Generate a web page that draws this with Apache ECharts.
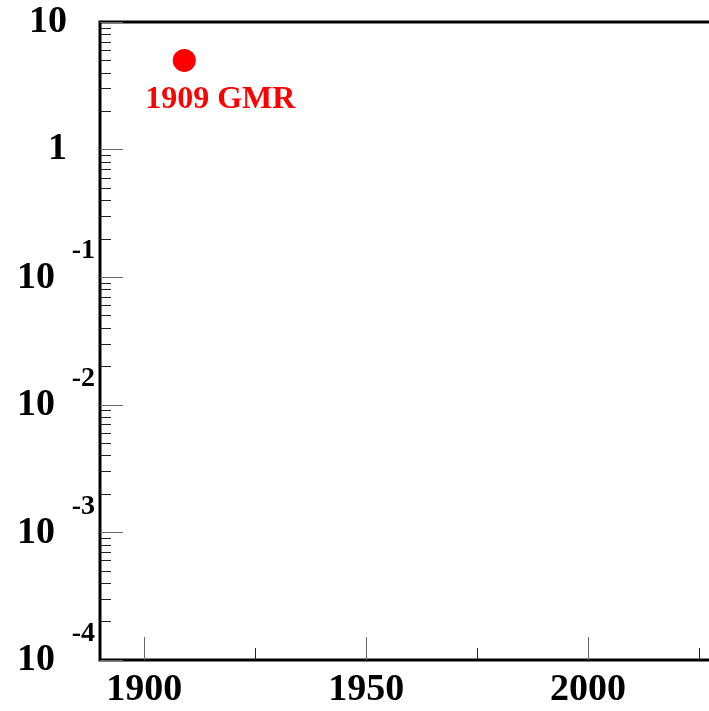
<!DOCTYPE html>
<html>
<head>
<meta charset="utf-8">
<script src="https://cdn.jsdelivr.net/npm/echarts@6/dist/echarts.min.js"></script>
<style>
html,body{margin:0;padding:0;background:#fff;}
#main{width:709px;height:711px;}
</style>
</head>
<body>
<div id="main"></div>
<script>
// Data
const years = [1909];
const values = [5];
const pointLabels = ['1909 GMR'];
const xMajorTicks = [1900, 1950, 2000];
const xMinorTicks = [1925, 1975, 2025];
const yDecades = [1e-4, 1e-3, 1e-2, 1e-1, 1, 10];
const yMinorFactors = [2, 3, 4, 5, 6, 7, 8, 9];

const FONT = 'Liberation Serif';
const yMinorTicks = [];
yDecades.slice(0, -1).forEach(d => yMinorFactors.forEach(f => yMinorTicks.push(d * f)));

const chart = echarts.init(document.getElementById('main'), null, {renderer: 'canvas'});
const option = {
  backgroundColor: '#fff',
  animation: false,
  grid: {left: 100, top: 22, right: -12, bottom: 51, outerBoundsMode: 'none', containLabel: false,
         show: true, borderColor: '#000', borderWidth: 3, backgroundColor: 'transparent'},
  xAxis: [{
    type: 'value', min: 1890, max: 2030, position: 'bottom',
    axisLine: {show: true, onZero: false, lineStyle: {color: '#000', width: 2}},
    axisTick: {show: true, inside: true, length: 23, customValues: xMajorTicks, lineStyle: {color: '#666', width: 1}},
    axisLabel: {show: true, customValues: xMajorTicks, margin: 11, formatter: v => String(v),
                fontFamily: FONT, fontWeight: 'bold', fontSize: 38, color: '#000'},
    splitLine: {show: false}
  }, {
    type: 'value', min: 1890, max: 2030, position: 'bottom',
    axisLine: {show: false, onZero: false},
    axisTick: {show: true, inside: true, length: 12, customValues: xMinorTicks, lineStyle: {color: '#222', width: 1}},
    axisLabel: {show: false},
    splitLine: {show: false}
  }],
  yAxis: [{
    type: 'log', logBase: 10, min: 1e-4, max: 10, position: 'left',
    axisLine: {show: true, onZero: false, lineStyle: {color: '#000', width: 2}},
    axisTick: {show: true, inside: true, length: 23, customValues: yDecades, lineStyle: {color: '#666', width: 1}},
    axisLabel: {
      show: true, customValues: yDecades, margin: 5, align: 'right',
      formatter: function (v) {
        const p = Math.round(Math.log10(v));
        if (p === 1) return '{t|10}';
        if (p === 0) return '{t|1}';
        return '{e|' + p + '}\n{b|10}';
      },
      rich: {
        t: {fontFamily: FONT, fontWeight: 'bold', fontSize: 38, color: '#000', padding: [0, 28, 0, 0]},
        b: {fontFamily: FONT, fontWeight: 'bold', fontSize: 38, color: '#000', lineHeight: 52, padding: [0, 40, 0, 0]},
        e: {fontFamily: FONT, fontWeight: 'bold', fontSize: 28, color: '#000', lineHeight: 1}
      }
    },
    splitLine: {show: false},
    minorTick: {show: false}
  }, {
    type: 'log', logBase: 10, min: 1e-4, max: 10, position: 'left',
    axisLine: {show: false, onZero: false},
    axisTick: {show: true, inside: true, length: 11, customValues: yMinorTicks, lineStyle: {color: '#222', width: 1}},
    axisLabel: {show: false},
    splitLine: {show: false}
  }],
  series: [{
    type: 'scatter', xAxisIndex: 0, yAxisIndex: 0,
    symbol: 'circle', symbolSize: 23,
    itemStyle: {color: '#ff0000', opacity: 1},
    data: years.map((y, i) => [y, values[i]]),
    label: {
      show: true, position: 'inside', offset: [36, 39],
      formatter: p => pointLabels[p.dataIndex],
      fontFamily: FONT, fontWeight: 'bold', fontSize: 32, color: '#ff0000'
    }
  }]
};
chart.setOption(option);
</script>
</body>
</html>
